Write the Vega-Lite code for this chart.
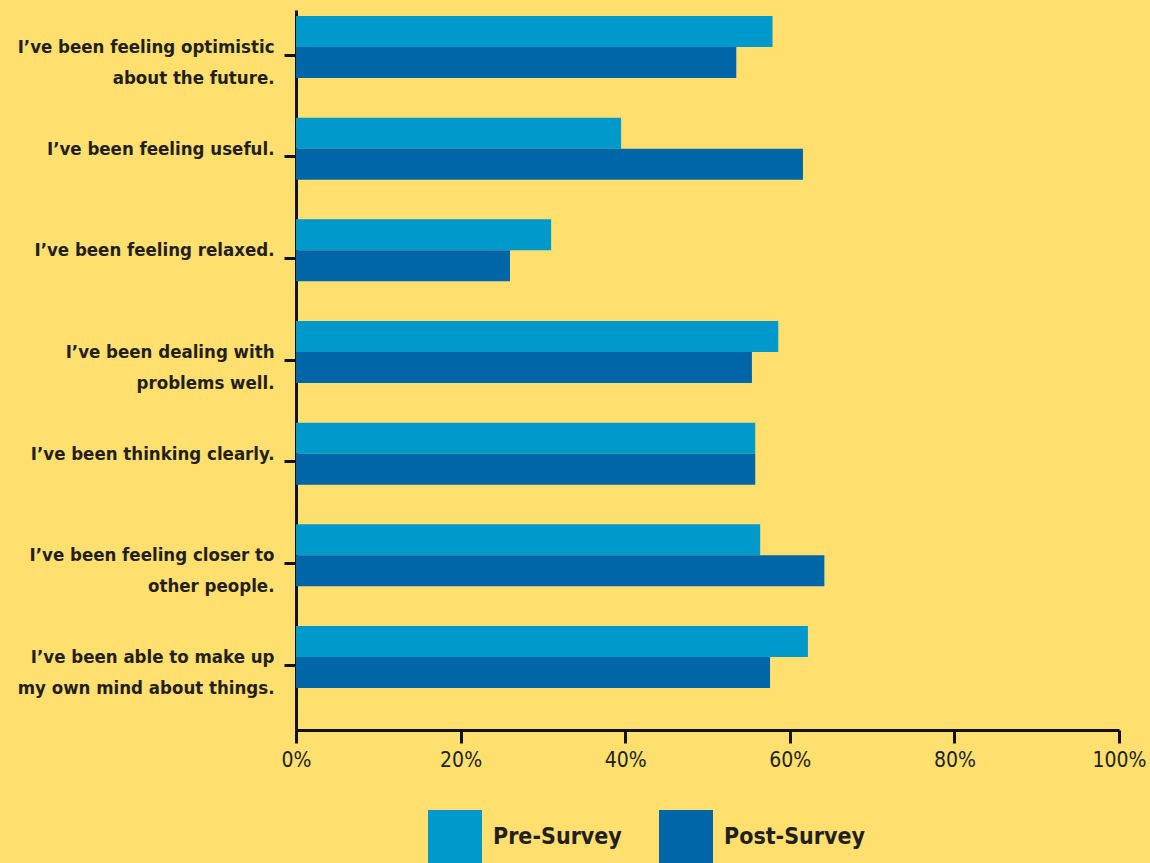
{
  "$schema": "https://vega.github.io/schema/vega-lite/v6.json",
  "width": 823,
  "height": 720,
  "autosize": {"type": "none"},
  "padding": {"left": 296, "top": 10, "right": 31, "bottom": 133},
  "background": "#FFE06E",
  "config": {"view": {"stroke": null}, "font": "Noto Sans ExtraCondensed, Noto Sans Condensed, DejaVu Sans Condensed"},
  "data": {
    "values": [
      {"item": "I’ve been feeling optimistic|about the future.", "survey": "Pre-Survey", "pct": 57.9},
      {"item": "I’ve been feeling optimistic|about the future.", "survey": "Post-Survey", "pct": 53.5},
      {"item": "I’ve been feeling useful.", "survey": "Pre-Survey", "pct": 39.5},
      {"item": "I’ve been feeling useful.", "survey": "Post-Survey", "pct": 61.6},
      {"item": "I’ve been feeling relaxed.", "survey": "Pre-Survey", "pct": 31.0},
      {"item": "I’ve been feeling relaxed.", "survey": "Post-Survey", "pct": 26.0},
      {"item": "I’ve been dealing with|problems well.", "survey": "Pre-Survey", "pct": 58.6},
      {"item": "I’ve been dealing with|problems well.", "survey": "Post-Survey", "pct": 55.4},
      {"item": "I’ve been thinking clearly.", "survey": "Pre-Survey", "pct": 55.8},
      {"item": "I’ve been thinking clearly.", "survey": "Post-Survey", "pct": 55.8},
      {"item": "I’ve been feeling closer to|other people.", "survey": "Pre-Survey", "pct": 56.4},
      {"item": "I’ve been feeling closer to|other people.", "survey": "Post-Survey", "pct": 64.2},
      {"item": "I’ve been able to make up|my own mind about things.", "survey": "Pre-Survey", "pct": 62.2},
      {"item": "I’ve been able to make up|my own mind about things.", "survey": "Post-Survey", "pct": 57.6}
    ]
  },
  "mark": {"type": "bar"},
  "encoding": {
    "y": {
      "field": "item",
      "type": "nominal",
      "sort": [
        "I’ve been feeling optimistic|about the future.",
        "I’ve been feeling useful.",
        "I’ve been feeling relaxed.",
        "I’ve been dealing with|problems well.",
        "I’ve been thinking clearly.",
        "I’ve been feeling closer to|other people.",
        "I’ve been able to make up|my own mind about things."
      ],
      "scale": {"paddingInner": 0.39, "paddingOuter": 0.236, "align": 0.125},
      "axis": {
        "title": null,
        "domainColor": "#111111",
        "domainWidth": 3,
        "tickColor": "#111111",
        "tickWidth": 3,
        "tickSize": 12,
        "bandPosition": 0.63,
        "labelPadding": 10,
        "labelFontSize": 18.5,
        "labelFontWeight": "bold",
        "labelColor": "#231F20",
        "labelLimit": 320,
        "labelLineHeight": 31,
        "labelExpr": "split(datum.label, '|')"
      }
    },
    "yOffset": {
      "field": "survey",
      "type": "nominal",
      "sort": ["Pre-Survey", "Post-Survey"],
      "scale": {"paddingInner": 0, "paddingOuter": 0}
    },
    "x": {
      "field": "pct",
      "type": "quantitative",
      "scale": {"domain": [0, 100]},
      "axis": {
        "title": null,
        "grid": false,
        "values": [0, 20, 40, 60, 80, 100],
        "labelExpr": "datum.value + '%'",
        "domainColor": "#111111",
        "domainWidth": 3,
        "tickColor": "#111111",
        "tickWidth": 3,
        "tickSize": 13,
        "labelPadding": 6,
        "labelDx": 5,
        "labelFontSize": 21,
        "labelColor": "#231F20",
        "labelFlush": false
      }
    },
    "color": {
      "field": "survey",
      "type": "nominal",
      "sort": ["Pre-Survey", "Post-Survey"],
      "scale": {"domain": ["Pre-Survey", "Post-Survey"], "range": ["#0099CC", "#0066A8"]},
      "legend": {
        "title": null,
        "orient": "none",
        "legendX": 132,
        "legendY": 800,
        "direction": "horizontal",
        "padding": 0,
        "symbolType": "square",
        "symbolSize": 2916,
        "symbolStrokeWidth": 0,
        "symbolOpacity": 1,
        "labelFontSize": 23,
        "labelFontWeight": "bold",
        "labelColor": "#231F20",
        "labelOffset": 11,
        "columnPadding": 37,
        "labelLimit": 300
      }
    }
  }
}
